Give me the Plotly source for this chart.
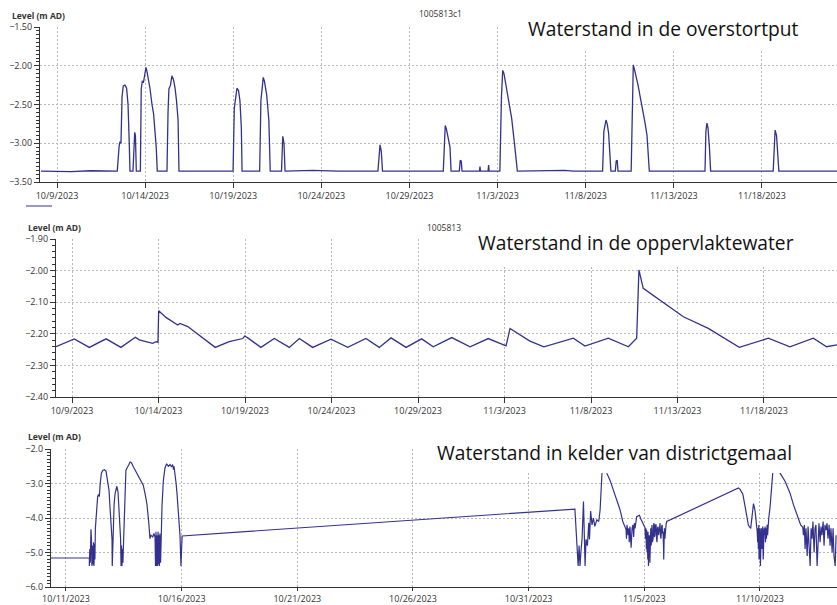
import numpy as np
import pandas as pd
import plotly.graph_objects as go

# ---------------------------------------------------------------------------
# Data: water levels (m AD). Times are days after each panel's start date.
# ---------------------------------------------------------------------------
start_top = "2023-10-09"
start_mid = "2023-10-09"
start_bot = "2023-10-11"

# Overflow chamber (1005813c1)
top_days = [
    -0.91, 0.8, 1.9, 2.6, 3.42, 3.52, 3.57, 3.63, 3.69, 3.76, 3.86, 3.95, 4.03, 4.10, 4.14,
    4.31, 4.37, 4.41, 4.45, 4.50,
    4.73, 4.78, 4.84, 4.91, 4.99, 5.05, 5.11, 5.28, 5.39, 5.48, 5.56, 5.63, 5.69,
    6.24, 6.30, 6.35, 6.44, 6.52, 6.61, 6.70, 6.78, 6.87, 6.92,
    9.99, 10.06, 10.16, 10.21, 10.30, 10.38, 10.46, 10.50,
    11.50, 11.57, 11.66, 11.70, 11.77, 11.90, 12.02, 12.05, 12.10,
    12.74, 12.77, 12.81, 12.88, 12.94,
    14.5, 16.0, 18.21, 18.29, 18.33, 18.40, 18.47,
    21.92, 21.99, 22.03, 22.10, 22.19, 22.30, 22.36,
    22.83, 22.88, 22.94, 22.98,
    23.97, 24.00, 24.03, 24.46, 24.49, 24.52,
    25.13, 25.22, 25.29, 25.36, 25.51, 25.62, 25.80, 25.99, 26.07, 26.12,
    28.8, 29.3, 30.96, 31.03, 31.15, 31.22, 31.30, 31.37, 31.43,
    31.68, 31.73, 31.79, 31.83,
    32.58, 32.64, 32.70, 32.77, 32.85, 32.97, 33.14, 33.25, 33.37, 33.48, 33.56, 33.61,
    36.77, 36.82, 36.88, 36.94, 37.02, 37.09,
    40.64, 40.70, 40.75, 40.83, 40.91, 40.96, 44.26,
]
top_level = [
    -3.36, -3.365, -3.355, -3.36, -3.36, -3.05, -2.98, -3.00, -2.40, -2.26, -2.25, -2.29, -2.50, -3.00, -3.36,
    -3.36, -3.00, -2.86, -2.90, -3.36,
    -3.36, -2.30, -2.20, -2.21, -2.10, -2.02, -2.08, -2.30, -2.50, -2.62, -2.85, -3.05, -3.36,
    -3.36, -2.60, -2.30, -2.25, -2.13, -2.18, -2.29, -2.45, -2.70, -3.36,
    -3.36, -2.55, -2.35, -2.29, -2.32, -2.45, -2.80, -3.36,
    -3.36, -2.45, -2.25, -2.15, -2.20, -2.38, -2.70, -2.89, -3.36,
    -3.36, -2.95, -2.91, -3.00, -3.36,
    -3.35, -3.36, -3.36, -3.05, -3.02, -3.10, -3.36,
    -3.36, -2.85, -2.77, -2.82, -2.95, -3.05, -3.36,
    -3.36, -3.22, -3.23, -3.36,
    -3.36, -3.30, -3.36, -3.36, -3.28, -3.36,
    -3.36, -2.40, -2.06, -2.10, -2.29, -2.40, -2.68, -3.07, -3.25, -3.36,
    -3.35, -3.36, -3.36, -2.85, -2.70, -2.75, -2.87, -3.10, -3.36,
    -3.36, -3.23, -3.22, -3.36,
    -3.36, -2.30, -1.99, -2.05, -2.12, -2.25, -2.46, -2.58, -2.74, -2.90, -3.20, -3.36,
    -3.36, -2.85, -2.74, -2.80, -3.05, -3.36,
    -3.36, -2.90, -2.83, -2.90, -3.20, -3.36, -3.36,
]

# Surface water (1005813)
mid_days = [
    -0.925, 0.13, 1.00, 1.97, 2.83, 3.66, 3.89, 4.24, 4.66, 4.86, 4.97, 5.01, 5.43, 6.11, 6.24,
    6.69, 8.28, 9.09, 9.87, 9.98, 10.16, 10.92, 11.69, 12.56, 13.14, 13.91, 14.97, 15.94,
    16.99, 17.76, 18.44, 19.31, 20.21, 20.88, 21.95, 23.01, 24.06, 25.09, 25.32, 26.47,
    27.28, 28.98, 29.65, 31.00, 32.16, 32.64, 32.72, 32.77, 33.02, 35.34, 36.78, 38.57,
    40.25, 41.50, 42.85, 43.62, 44.22,
]
mid_level = [
    -2.241, -2.216, -2.243, -2.216, -2.243, -2.211, -2.219, -2.224, -2.230, -2.225, -2.227, -2.127, -2.148, -2.172, -2.167,
    -2.177, -2.243, -2.225, -2.215, -2.207, -2.213, -2.243, -2.215, -2.243, -2.215, -2.243, -2.217, -2.243,
    -2.215, -2.243, -2.213, -2.243, -2.216, -2.241, -2.212, -2.241, -2.215, -2.238, -2.183, -2.223,
    -2.241, -2.214, -2.239, -2.214, -2.241, -2.214, -2.077, -1.998, -2.056, -2.146, -2.183, -2.243,
    -2.214, -2.241, -2.214, -2.241, -2.235,
]

# Pumping station basement, in consecutive stretches
bot_days_a = [
    -0.65, 1.01, 1.01, 1.03, 1.05, 1.06, 1.08, 1.10, 1.12, 1.14, 1.17, 1.19, 1.21, 1.23, 1.25,
    1.27, 1.33, 1.37, 1.41, 1.44, 1.48, 1.53, 1.59, 1.66, 1.73, 1.79, 1.86, 1.90, 1.95, 1.99,
    2.00, 2.02, 2.03, 2.05, 2.08, 2.12, 2.16, 2.20, 2.25, 2.29, 2.33, 2.36, 2.38, 2.40, 2.42,
    2.44, 2.46, 2.51, 2.55, 2.59, 2.64, 2.68, 2.72, 2.77, 2.83, 2.90, 2.98, 3.11, 3.24, 3.34,
    3.42, 3.50, 3.58, 3.63, 3.67, 3.75, 3.80, 3.85,
    3.87, 3.89, 3.91, 3.93, 3.96, 3.98, 4.00, 4.02, 4.04, 4.06, 4.09, 4.11,
    4.15, 4.21, 4.28, 4.35, 4.43, 4.50, 4.56, 4.61, 4.65, 4.67, 4.70, 4.76, 4.80, 4.86, 4.89,
    4.93, 4.97, 5.02,
]
bot_level_a = [
    -5.16, -5.16, -5.39, -4.90, -5.30, -4.50, -4.33, -4.60, -5.39, -4.80, -5.35, -4.70, -5.39, -4.75, -5.20,
    -4.30, -3.60, -3.37, -3.32, -3.38, -3.00, -2.70, -2.62, -2.60, -2.64, -2.85, -3.20, -3.66, -4.30, -4.62,
    -5.39, -4.70, -5.35, -4.40, -3.60, -3.30, -3.12, -3.08, -3.25, -3.70, -4.14, -4.60, -5.39, -4.80, -5.39,
    -4.90, -5.30, -4.14, -3.20, -2.62, -2.55, -2.51, -2.45, -2.38, -2.40, -2.50, -2.60, -2.75, -2.90, -3.05,
    -3.30, -3.60, -4.14, -4.60, -4.50, -4.55, -4.45, -4.55,
    -5.39, -4.40, -5.39, -4.50, -5.39, -4.40, -5.35, -4.50, -5.39, -4.45, -5.30, -4.60,
    -3.66, -2.90, -2.55, -2.43, -2.50, -2.45, -2.52, -2.45, -2.60, -2.50, -2.75, -3.00, -3.30, -3.95, -4.30,
    -4.52, -5.39, -4.52,
]
bot_days_b = [
    22.00, 22.05, 22.11, 22.14, 22.18, 22.22, 22.27, 22.31, 22.37, 22.40, 22.44, 22.48, 22.54,
    22.60, 22.63, 22.68, 22.74, 22.80, 22.86, 22.95, 23.03, 23.09, 23.13, 23.17, 23.25, 23.38,
    23.52, 23.66, 23.80, 23.95, 24.07, 24.17, 24.21, 24.23, 24.25, 24.30, 24.33, 24.35, 24.38,
    24.43, 24.47, 24.51, 24.54, 24.57, 24.60, 24.67, 24.79, 24.85, 24.93, 25.03,
]
bot_level_b = [
    -3.74, -4.24, -4.91, -5.39, -4.80, -5.39, -4.90, -4.60, -3.52, -4.43, -5.39, -4.62, -4.80,
    -4.14, -4.62, -3.80, -4.20, -4.00, -4.24, -4.05, -4.10, -3.76, -3.19, -2.70, -2.15, -2.70,
    -2.91, -3.19, -3.43, -3.76, -4.10, -4.24, -4.33, -4.60, -4.20, -4.50, -4.30, -4.70, -4.25,
    -4.86, -4.30, -4.20, -4.55, -4.15, -4.30, -3.96, -3.92, -4.03, -4.14, -4.28,
]
bot_days_c = [
    25.05, 25.07, 25.09, 25.10, 25.12, 25.13, 25.15, 25.16, 25.18, 25.19, 25.21, 25.22, 25.24,
    25.25, 25.27, 25.28, 25.30, 25.32, 25.33, 25.35, 25.38, 25.40, 25.42, 25.44, 25.46, 25.48,
    25.51, 25.53, 25.55, 25.57, 25.59, 25.62, 25.64, 25.66, 25.68, 25.70, 25.72, 25.75, 25.77,
    25.79, 25.81, 25.83, 25.84, 25.86, 25.87, 25.89, 25.90, 25.92, 25.94, 25.97,
]
bot_level_c = [
    -4.60, -4.30, -4.90, -4.35, -5.00, -4.40, -5.20, -4.40, -5.39, -4.50, -5.10, -4.50, -5.30,
    -4.30, -4.90, -4.30, -4.80, -4.25, -4.20, -4.70, -4.60, -4.20, -4.15, -4.55, -4.50, -4.20,
    -4.20, -4.60, -4.70, -4.30, -4.25, -4.50, -4.40, -4.20, -4.15, -4.50, -4.60, -4.25, -4.20,
    -4.45, -4.40, -4.80, -5.20, -4.50, -4.30, -4.60, -4.50, -4.25, -4.20, -4.10,
]
bot_days_d = [
    29.07, 29.14, 29.26, 29.35, 29.43, 29.50, 29.60, 29.66, 29.72, 29.79, 29.86,
    29.88, 29.90, 29.92, 29.93, 29.95, 29.96, 29.98, 29.99, 30.00, 30.02, 30.03, 30.05, 30.06,
    30.08, 30.09, 30.11, 30.12, 30.14, 30.15, 30.17, 30.18, 30.20, 30.22, 30.24, 30.26, 30.28,
    30.31, 30.33, 30.35, 30.38,
]
bot_level_d = [
    -3.13, -3.17, -3.31, -3.64, -4.00, -4.21, -4.30, -3.82, -3.58, -3.80, -4.24,
    -4.40, -4.70, -4.30, -4.90, -4.20, -5.20, -4.40, -5.00, -4.30, -5.39, -4.50, -5.10, -4.30,
    -4.90, -4.40, -4.60, -4.25, -5.20, -4.40, -4.80, -4.30, -4.50, -4.25, -4.70, -4.30, -4.60,
    -4.20, -4.50, -4.20, -4.00,
]
bot_days_e = [
    30.44, 30.51, 30.55, 30.61, 30.70, 30.87, 31.09, 31.30, 31.45, 31.62, 31.76, 31.85,
    31.88, 31.92, 31.95, 31.99, 32.04, 32.08, 32.12, 32.17, 32.21, 32.25, 32.29, 32.34, 32.38,
    32.42, 32.47, 32.51, 32.55, 32.60, 32.64, 32.68, 32.73, 32.77, 32.81, 32.86, 32.90, 32.94,
    32.99, 33.03, 33.07, 33.12, 33.16, 33.20, 33.25, 33.29,
]
bot_level_e = [
    -3.66, -3.00, -2.70, -2.20, -2.30, -2.70, -2.94, -3.28, -3.62, -3.96, -4.20, -4.27,
    -4.50, -4.20, -4.90, -4.30, -5.10, -4.25, -4.70, -5.39, -4.30, -4.60, -4.10, -5.00, -4.30,
    -4.20, -5.39, -4.40, -4.15, -4.70, -4.25, -4.50, -4.10, -4.80, -4.20, -4.35, -4.15, -4.60,
    -4.20, -4.80, -4.30, -5.00, -4.30, -5.10, -5.39, -4.50,
]

# Panel titles and series identifiers
panel_titles = [
    "Waterstand in de overstortput",
    "Waterstand in de oppervlaktewater",
    "Waterstand in kelder van districtgemaal",
]
series_ids = ["1005813c1", "1005813"]
y_label = "Level (m AD)"

bot_days = bot_days_a + bot_days_b + bot_days_c + bot_days_d + bot_days_e
bot_level = bot_level_a + bot_level_b + bot_level_c + bot_level_d + bot_level_e


def to_time(start, days):
    return pd.Timestamp(start) + pd.to_timedelta(np.asarray(days, dtype=float), unit="D")


W, H = 837, 605
LINE = "#32328e"
AXIS = "#333333"
GRID = "#b8b8b8"
FONT = "Open Sans, Noto Sans, sans-serif"
TICKFONT = dict(family=FONT, size=9, color="#333333")


def px_x(p):
    return p / W


def px_y(p):
    return 1 - p / H


fig = go.Figure()
fig.add_trace(go.Scatter(x=to_time(start_top, top_days), y=top_level, mode="lines",
                         line=dict(color=LINE, width=1.3), xaxis="x", yaxis="y",
                         showlegend=False))
fig.add_trace(go.Scatter(x=to_time(start_mid, mid_days), y=mid_level, mode="lines",
                         line=dict(color=LINE, width=1.3), xaxis="x2", yaxis="y2",
                         showlegend=False))
fig.add_trace(go.Scatter(x=to_time(start_bot, bot_days), y=bot_level, mode="lines",
                         line=dict(color=LINE, width=1.2), xaxis="x3", yaxis="y3",
                         showlegend=False))

DAY_MS = 86400000


def xaxis(domain_px, start, rng, anchor, ticklen=5):
    return dict(
        domain=[px_x(domain_px[0]), px_x(domain_px[1])],
        anchor=anchor, type="date",
        range=[to_time(start, [rng[0]])[0], to_time(start, [rng[1]])[0]],
        tick0=start, dtick=5 * DAY_MS, tickformat="%-m/%-d/%Y",
        showline=True, linecolor=AXIS, linewidth=1.2,
        ticks="outside", ticklen=ticklen, tickcolor=AXIS,
        showgrid=True, gridcolor=GRID, griddash="1.5px,2.5px", gridwidth=1,
        zeroline=False, tickfont=TICKFONT, automargin=False,
    )


def yaxis(domain_px, rng, dtick, minor_dtick, fmt, anchor):
    return dict(
        domain=[px_y(domain_px[1]), px_y(domain_px[0])],
        anchor=anchor, range=rng, dtick=dtick, tick0=rng[0], tickformat=fmt,
        showline=True, linecolor=AXIS, linewidth=1.2,
        ticks="outside", ticklen=5, tickcolor=AXIS,
        minor=dict(dtick=minor_dtick, ticks="outside", ticklen=3, tickcolor=AXIS, showgrid=False),
        showgrid=True, gridcolor=GRID, griddash="1.5px,2.5px", gridwidth=1,
        zeroline=False, tickfont=TICKFONT, automargin=False,
    )


fig.update_layout(
    width=W, height=H,
    margin=dict(l=0, r=0, t=0, b=0),
    paper_bgcolor="white", plot_bgcolor="white",
    xaxis=xaxis((40, 837), start_top, (-0.965, 44.26), "y"),
    yaxis=yaxis((27, 182), [-3.5, -1.5], 0.5, 0.05, ".2f", "x"),
    xaxis2=xaxis((56, 837), start_mid, (-0.925, 44.22), "y2"),
    yaxis2=yaxis((239, 397), [-2.4, -1.9], 0.1, 0.02, ".2f", "x2"),
    xaxis3=xaxis((51, 837), start_bot, (-0.648, 33.33), "y3", ticklen=3),
    yaxis3=yaxis((449, 587), [-6.0, -2.0], 1.0, 0.1, ".1f", "x3"),
)

# White label boxes at the top right of each panel
boxes = [(517, 837, 0, 51), (425, 837, 203, 265), (420, 837, 420, 473)]
for x0, x1, y0, y1 in boxes:
    fig.add_shape(type="rect", xref="paper", yref="paper", layer="above",
                  x0=px_x(x0), x1=px_x(x1), y0=px_y(y1), y1=px_y(y0),
                  fillcolor="white", line=dict(width=0))

# Short legend swatch under the first panel
fig.add_shape(type="line", xref="paper", yref="paper", layer="above",
              x0=px_x(26), x1=px_x(52), y0=px_y(206), y1=px_y(206),
              line=dict(color="#7878b4", width=1.5))

SMALL = dict(family=FONT, size=8.5, color="#333333")
BIG = dict(family=FONT, size=19.2, color="#111111")

# y-axis labels
for x, y in [(10, 15), (26, 227), (26, 436)]:
    fig.add_annotation(text="<b>" + y_label + "</b>", xref="paper", yref="paper",
                       x=px_x(x), y=px_y(y), xanchor="left", yanchor="middle",
                       showarrow=False, font=SMALL)

# series identifiers
for sid, (x, y) in zip(series_ids, [(440, 14), (444, 228)]):
    fig.add_annotation(text=sid, xref="paper", yref="paper",
                       x=px_x(x), y=px_y(y), xanchor="center", yanchor="middle",
                       showarrow=False, font=SMALL)

# panel titles
for title, (x, y) in zip(panel_titles, [(663, 29), (636, 243), (614, 452)]):
    fig.add_annotation(text=title, xref="paper", yref="paper",
                       x=px_x(x), y=px_y(y), xanchor="center", yanchor="middle",
                       showarrow=False, font=BIG)

fig.write_html("out.html")
